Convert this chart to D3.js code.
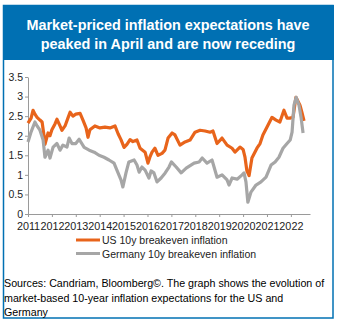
<!DOCTYPE html>
<html>
<head>
<meta charset="utf-8">
<script src="https://cdn.jsdelivr.net/npm/d3@7"></script>
<style>
  body { margin: 0; background: #fff; }
  svg { display: block; font-family: "Liberation Sans", Arial, sans-serif; }
</style>
</head>
<body>
<div id="chart"></div>
<script>
// dates as decimal years, values in %
let usDates = [2011.0, 2011.13, 2011.21, 2011.29, 2011.38, 2011.5, 2011.59, 2011.67, 2011.71, 2011.84, 2011.92,
    2012.0, 2012.13, 2012.21, 2012.34, 2012.42, 2012.55, 2012.67, 2012.76, 2012.88,
    2013.0, 2013.18, 2013.3, 2013.43, 2013.51, 2013.59, 2013.8,
    2014.01, 2014.22, 2014.43, 2014.64, 2014.77, 2014.89,
    2015.02, 2015.14, 2015.27, 2015.39, 2015.56, 2015.69, 2015.9,
    2016.02, 2016.1, 2016.19, 2016.31, 2016.44, 2016.61, 2016.73, 2016.86,
    2017.03, 2017.15, 2017.36, 2017.57, 2017.78, 2017.99,
    2018.2, 2018.41, 2018.62, 2018.74, 2018.91,
    2019.12, 2019.33, 2019.54, 2019.66, 2019.87,
    2020.0, 2020.08, 2020.16, 2020.25, 2020.37, 2020.58, 2020.71, 2020.83,
    2021.04, 2021.21, 2021.38, 2021.54, 2021.71, 2021.84, 2021.96,
    2022.09, 2022.21, 2022.38, 2022.46, 2022.55]
let usValues = [2.32, 2.45, 2.65, 2.55, 2.47, 2.4, 2.35, 2.0, 1.78, 2.07, 2.0,
    2.15, 2.3, 2.42, 2.25, 2.14, 2.25, 2.45, 2.6, 2.5,
    2.55, 2.57, 2.4, 2.2, 1.96, 2.15, 2.25,
    2.2, 2.22, 2.2, 2.25, 2.05, 1.9,
    1.7, 1.78, 1.9, 1.85, 1.89, 1.68, 1.58,
    1.3, 1.45, 1.58, 1.68, 1.5, 1.55, 1.63, 1.94,
    2.07, 2.02, 1.76, 1.84, 1.89, 2.09,
    2.14, 2.12, 2.09, 2.12, 1.8,
    1.94, 1.76, 1.68, 1.58, 1.71,
    1.65, 1.45, 1.1, 0.98, 1.43, 1.68, 1.8, 2.02,
    2.27, 2.47, 2.4, 2.35, 2.65, 2.45, 2.45,
    2.47, 2.98, 2.78, 2.6, 2.38]

let deDates = [2011.0, 2011.13, 2011.29, 2011.38, 2011.5, 2011.63, 2011.71, 2011.84, 2011.92,
    2012.05, 2012.21, 2012.34, 2012.46, 2012.63, 2012.72, 2012.84,
    2013.0, 2013.14, 2013.35, 2013.56, 2013.77, 2013.97,
    2014.18, 2014.39, 2014.6, 2014.72, 2014.89, 2014.97,
    2015.1, 2015.22, 2015.44, 2015.56, 2015.65, 2015.77, 2015.9,
    2016.06, 2016.15, 2016.27, 2016.4, 2016.57, 2016.74, 2016.9,
    2017.0, 2017.2, 2017.41, 2017.62, 2017.95,
    2018.16, 2018.29, 2018.49, 2018.7, 2018.91,
    2019.12, 2019.33, 2019.41, 2019.54, 2019.75, 2019.96,
    2020.04, 2020.12, 2020.2, 2020.33, 2020.54, 2020.75, 2020.96,
    2021.17, 2021.34, 2021.5, 2021.67, 2021.84, 2021.97,
    2022.05, 2022.13, 2022.22, 2022.34, 2022.43, 2022.51]
let deValues = [1.84, 2.1, 2.35, 2.25, 2.14, 1.9, 1.45, 1.63, 1.43,
    1.71, 1.8, 1.63, 1.76, 1.71, 1.94, 1.8,
    1.8, 1.91, 1.7, 1.63, 1.58, 1.5,
    1.45, 1.38, 1.3, 1.12, 0.87, 0.69,
    1.05, 1.33, 1.38, 1.25, 1.07, 1.2, 1.12,
    0.92, 1.1, 1.05, 0.82, 0.92, 1.05, 1.2,
    1.33, 1.2, 1.05, 1.17, 1.3,
    1.33, 1.43, 1.3, 1.38, 0.94,
    1.0, 0.87, 0.74, 0.92, 0.89, 1.0,
    1.05, 0.82, 0.3, 0.56, 0.74, 0.82, 0.94,
    1.25, 1.33, 1.45, 1.68, 1.8, 1.89,
    2.09, 2.78, 2.98, 2.78, 2.45, 2.07]

let yearTicks = [2011, 2012, 2013, 2014, 2015, 2016, 2017, 2018, 2019, 2020, 2021, 2022]
let valueTicks = [0, 0.5, 1, 1.5, 2, 2.5, 3, 3.5]
let seriesNames = ["US 10y breakeven inflation", "Germany 10y breakeven inflation"]
let titleLines = ["Market-priced inflation expectations have", "peaked in April and are now receding"]
let sourceLines = ["Sources: Candriam, Bloomberg\u00a9. The graph shows the evolution of",
    "market-based 10-year inflation expectations for the US and",
    "Germany"]

const width = 337, height = 322
const blue = "#0070b3", orange = "#e8641b", grey = "#a6a6a6"

let svg = d3.select("#chart")
    .append("svg")
    .attr("width", width)
    .attr("height", height)

// frame + title band
svg.append("rect")
    .attr("x", 3.5).attr("y", 5.5)
    .attr("width", 329.5).attr("height", 312.5)
    .attr("fill", "none")
    .attr("stroke", blue)
    .attr("stroke-width", 1.5)

svg.append("rect")
    .attr("x", 3).attr("y", 5)
    .attr("width", 331).attr("height", 55)
    .attr("fill", blue)

svg.selectAll(".title")
    .data(titleLines)
    .enter()
    .append("text")
    .attr("class", "title")
    .attr("x", 168)
    .attr("y", (d, i) => 30 + i * 19)
    .attr("text-anchor", "middle")
    .attr("fill", "#fff")
    .style("font-weight", "bold")
    .style("font-size", "14.4px")
    .text(d => d)

// scales
let x = d3.scaleLinear().domain([2011, 2022.8]).range([28, 310])
let y = d3.scaleLinear().domain([0, 3.5]).range([214, 77])

let xAxis = svg.append("g")
    .attr("transform", "translate(0,214)")
    .call(d3.axisBottom(x).tickValues(yearTicks).tickFormat(d3.format("d")).tickSize(3).tickSizeOuter(0))
xAxis.selectAll("text").attr("dy", "0.9em").style("font-size", "10.8px").attr("fill", "#222")

let yAxis = svg.append("g")
    .attr("transform", "translate(28,0)")
    .call(d3.axisLeft(y).tickValues(valueTicks).tickFormat(d => d).tickSize(3).tickSizeOuter(0))
yAxis.selectAll("text").attr("x", -5).style("font-size", "10.5px").attr("fill", "#222")

svg.selectAll(".domain, .tick line").attr("stroke", "#9a9a9a")

// lines
let line = d3.line()
    .x(d => x(d[0]))
    .y(d => y(d[1]))

let usData = d3.zip(usDates, usValues)
let deData = d3.zip(deDates, deValues)

svg.append("path")
    .datum(usData)
    .attr("d", line)
    .attr("fill", "none")
    .attr("stroke", orange)
    .attr("stroke-width", 3.2)
    .attr("stroke-linejoin", "round")

svg.append("path")
    .datum(deData)
    .attr("d", line)
    .attr("fill", "none")
    .attr("stroke", grey)
    .attr("stroke-width", 3.2)
    .attr("stroke-linejoin", "round")

// legend
const legend = svg.append("g")
legend.selectAll("line")
    .data(seriesNames)
    .enter()
    .append("line")
    .attr("x1", 76).attr("x2", 100)
    .attr("y1", (d, i) => 240 + i * 13.5)
    .attr("y2", (d, i) => 240 + i * 13.5)
    .attr("stroke", (d, i) => i == 0 ? orange : grey)
    .attr("stroke-width", 3)

legend.selectAll("text")
    .data(seriesNames)
    .enter()
    .append("text")
    .attr("x", 102)
    .attr("y", (d, i) => 244 + i * 13.5)
    .style("font-size", "10.5px")
    .attr("fill", "#222")
    .text(d => d)

// source note
svg.selectAll(".src")
    .data(sourceLines)
    .enter()
    .append("text")
    .attr("class", "src")
    .attr("x", 4)
    .attr("y", (d, i) => 287 + i * 14.5)
    .style("font-size", "10.7px")
    .attr("fill", "#000")
    .text(d => d)
</script>
</body>
</html>
